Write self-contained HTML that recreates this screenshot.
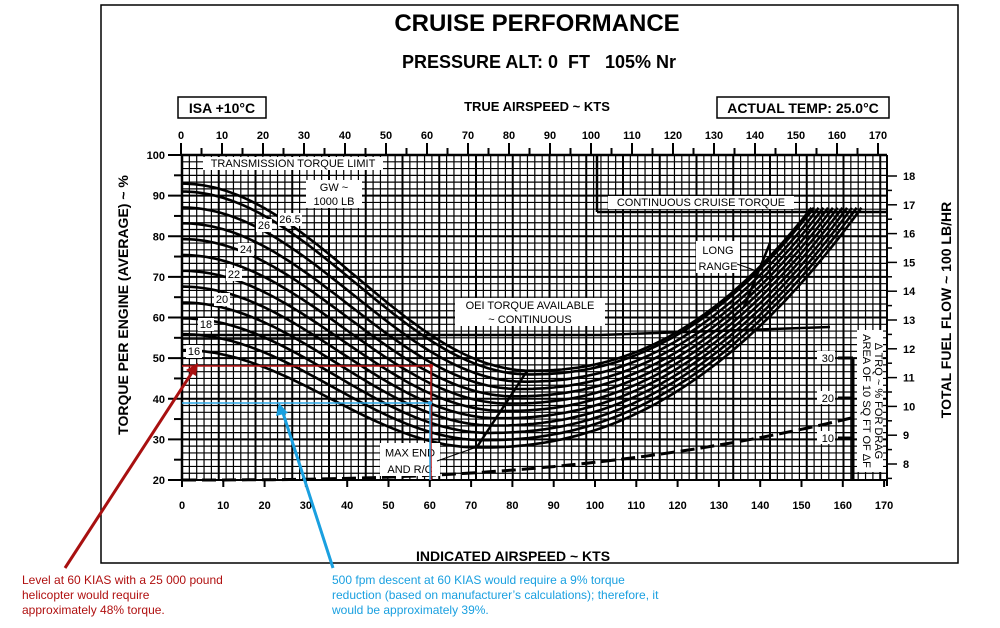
<!DOCTYPE html>
<html><head><meta charset="utf-8"><style>
html,body{margin:0;padding:0;background:#fff;width:1000px;height:628px;overflow:hidden}
svg{display:block;font-family:"Liberation Sans",Arial,sans-serif}
.b{font-weight:bold}
</style></head><body>
<svg id="s" width="1000" height="628" viewBox="0 0 1000 628" xmlns="http://www.w3.org/2000/svg">
<rect x="101" y="5" width="857" height="558" fill="#fff" stroke="#000" stroke-width="1.5"/>
<g id="grid"></g>
<g id="curves"></g>
<g id="over"></g>
<text x="537" y="31" text-anchor="middle" font-size="24" class="b">CRUISE PERFORMANCE</text>
<text x="539" y="68" text-anchor="middle" font-size="18" class="b">PRESSURE ALT: 0&#160;&#160;FT&#160;&#160;&#160;105% Nr</text>
<text x="537" y="111" text-anchor="middle" font-size="13" class="b">TRUE AIRSPEED ~ KTS</text>
<rect x="178" y="97" width="88" height="21" fill="#fff" stroke="#000" stroke-width="1.5"/>
<text x="222" y="113" text-anchor="middle" font-size="14" class="b">ISA +10°C</text>
<rect x="717" y="97" width="172" height="21" fill="#fff" stroke="#000" stroke-width="1.5"/>
<text x="803" y="113" text-anchor="middle" font-size="14" class="b">ACTUAL TEMP: 25.0°C</text>
<text x="513" y="561" text-anchor="middle" font-size="14" class="b">INDICATED AIRSPEED ~ KTS</text>
<text transform="translate(128,305) rotate(-90)" text-anchor="middle" font-size="14" class="b">TORQUE PER ENGINE (AVERAGE) ~ %</text>
<text transform="translate(951,310) rotate(-90)" text-anchor="middle" font-size="14" class="b">TOTAL FUEL FLOW ~ 100 LB/HR</text>
<text x="22" y="584" font-size="12" fill="#b01010">Level at 60 KIAS with a 25 000 pound</text>
<text x="22" y="599" font-size="12" fill="#b01010">helicopter would require</text>
<text x="22" y="614" font-size="12" fill="#b01010">approximately 48% torque.</text>
<text x="332" y="584" font-size="12" fill="#1aa0e0">500 fpm descent at 60 KIAS would require a 9% torque</text>
<text x="332" y="599" font-size="12" fill="#1aa0e0">reduction (based on manufacturer’s calculations); therefore, it</text>
<text x="332" y="614" font-size="12" fill="#1aa0e0">would be approximately 39%.</text>
</svg>
<script>
var NS="http://www.w3.org/2000/svg";
function el(p,t,a,txt){var e=document.createElementNS(NS,t);for(var k in a)e.setAttribute(k,a[k]);if(txt!==undefined)e.textContent=txt;document.getElementById(p).appendChild(e);return e;}
function X(k){return 182+k*4.13}
function Y(t){return 480-(t-20)*4.0625}
function T(k){return 181+k*4.1}
var L=182,R=887,TOP=155,BOT=480;
var i=0;
for(var x=L;x<=R+0.1;x+=7.35){el("grid","line",{x1:x,y1:TOP,x2:x,y2:BOT,stroke:"#000","stroke-width":(i%5==0)?2:1.2});i++;}
i=0;
for(var y=BOT;y>=TOP-0.1;y-=6.77){el("grid","line",{x1:L,y1:y,x2:R,y2:y,stroke:"#000","stroke-width":(i%6==0)?2:1.2});i++;}
el("grid","line",{x1:L,y1:TOP,x2:R,y2:TOP,stroke:"#000","stroke-width":2.5});
el("grid","line",{x1:L,y1:TOP,x2:L,y2:BOT,stroke:"#000","stroke-width":2.5});
el("grid","line",{x1:R,y1:TOP,x2:R,y2:BOT+6,stroke:"#000","stroke-width":2});
el("grid","line",{x1:L,y1:BOT,x2:R,y2:BOT,stroke:"#000","stroke-width":2});
for(var t=20;t<=100;t+=5){var yy=Y(t);el("grid","line",{x1:t%10==0?168:174,y1:yy,x2:L,y2:yy,stroke:"#000","stroke-width":2});
 if(t%10==0)el("grid","text",{x:165,y:yy+4,"text-anchor":"end","font-size":11,"font-weight":"bold"},t);}
for(var k=0;k<=170;k+=10){var xx=X(k);el("grid","line",{x1:xx,y1:BOT,x2:xx,y2:BOT+7,stroke:"#000","stroke-width":2});
 el("grid","text",{x:xx,y:509,"text-anchor":"middle","font-size":11,"font-weight":"bold"},k);}
for(var k=0;k<=170;k+=5){var xx=T(k);el("grid","line",{x1:xx,y1:k%10==0?143:148,x2:xx,y2:TOP,stroke:"#000","stroke-width":2});
 if(k%10==0)el("grid","text",{x:xx,y:139,"text-anchor":"middle","font-size":11,"font-weight":"bold"},k);}
for(var f=7.5;f<=18.01;f+=0.5){var yy=464-(f-8)*28.8;if(yy>480)continue;el("grid","line",{x1:R,y1:yy,x2:f%1==0?897:892,y2:yy,stroke:"#000","stroke-width":1.5});
 if(f%1==0)el("grid","text",{x:903,y:yy+4,"font-size":11,"font-weight":"bold"},f);}
var gws=[16,17,18,19,20,21,22,23,24,25,26,26.5];
gws.forEach(function(g){
 var d=g-16,h=52+d*3.9,m=28+d*1.8,vm=72+d*1.2,ve=164.5-d*1.15,pts=[];
 for(var k=0;k<=ve;k+=1){var tq;
  if(k<=vm){var u=k/vm;tq=m+(h-m)*(1+Math.cos(Math.PI*u))/2;}
  else{var u=(k-vm)/(ve-vm);tq=m+(87-m)*Math.pow(u,2.2);}
  pts.push(X(k).toFixed(1)+","+Y(tq).toFixed(1));}
 pts.push(X(ve).toFixed(1)+","+Y(87).toFixed(1));
 el("curves","polyline",{points:pts.join(" "),fill:"none",stroke:"#000","stroke-width":2.6});
});
el("curves","line",{x1:L,y1:335,x2:600,y2:335,stroke:"#000","stroke-width":2.5});
el("curves","line",{x1:L,y1:339,x2:440,y2:339,stroke:"#000","stroke-width":1.5});
el("curves","line",{x1:600,y1:335,x2:830,y2:327,stroke:"#000","stroke-width":2.5});
el("curves","line",{x1:597,y1:212,x2:R,y2:212,stroke:"#000","stroke-width":2.5});
el("curves","line",{x1:597,y1:TOP,x2:597,y2:212,stroke:"#000","stroke-width":2.5});
el("curves","line",{x1:477,y1:447,x2:527,y2:371,stroke:"#000","stroke-width":2.5});
el("curves","line",{x1:744,y1:307,x2:770,y2:243,stroke:"#000","stroke-width":2.5});
var dp=[];for(var k=0;k<=163;k+=2){var tq=20+15.5*Math.pow(k/163,2.6);dp.push(X(k).toFixed(1)+","+Y(tq).toFixed(1));}
el("curves","polyline",{points:dp.join(" "),fill:"none",stroke:"#000","stroke-width":3,"stroke-dasharray":"14,6"});
el("over","line",{x1:853,y1:358,x2:853,y2:BOT,stroke:"#000","stroke-width":3});
[[30,358],[20,398],[10,438]].forEach(function(a){el("over","rect",{x:817,y:a[1]-7,width:18,height:13,fill:"#fff"});
 el("over","line",{x1:838,y1:a[1],x2:853,y2:a[1],stroke:"#000","stroke-width":3});
 el("over","text",{x:834,y:a[1]+4,"text-anchor":"end","font-size":11},a[0]);});
el("over","rect",{x:857,y:330,width:26,height:142,fill:"#fff"});
el("over","text",{transform:"translate(875,401) rotate(90)","text-anchor":"middle","font-size":11},"Δ TRQ ~ % FOR DRAG");
el("over","text",{transform:"translate(863,401) rotate(90)","text-anchor":"middle","font-size":11},"AREA OF 10 SQ FT OF ΔF");
function box(x,y,w,h,lines,fs){el("over","rect",{x:x,y:y,width:w,height:h,fill:"#fff"});
 lines.forEach(function(s,j){el("over","text",{x:x+w/2,y:y+(j+1)*(h/lines.length)-3,"text-anchor":"middle","font-size":fs||11},s);});}
box(203,157,180,13,["TRANSMISSION TORQUE LIMIT"]);
box(306,180,56,28,["GW ~","1000 LB"]);
box(608,196,186,13,["CONTINUOUS CRUISE TORQUE"]);
box(455,298,150,28,["OEI TORQUE AVAILABLE","~ CONTINUOUS"]);
box(696,241,44,32,["LONG","RANGE"]);
box(380,443,60,33,["MAX END","AND R/C"]);
el("over","line",{x1:437,y1:461,x2:477,y2:447,stroke:"#000","stroke-width":1});
el("over","line",{x1:737,y1:264,x2:757,y2:271,stroke:"#000","stroke-width":1});
[["26.5",278,213,24],["26",256,219,16],["24",238,243,16],["22",226,268,16],["20",214,293,16],["18",198,318,16],["16",186,345,16]].forEach(function(a){box(a[1],a[2],a[3],13,[a[0]]);});
el("over","polyline",{points:"182,366 431,366 431,480",fill:"none",stroke:"#c01818","stroke-width":1.5});
el("over","circle",{cx:431,cy:366,r:2,fill:"#c01818"});
el("over","polyline",{points:"182,403 430,403 430,480",fill:"none",stroke:"#2aa8e8","stroke-width":1.5});
el("over","circle",{cx:430,cy:403,r:2,fill:"#2aa8e8"});
el("over","line",{x1:65,y1:568,x2:193,y2:371,stroke:"#a81010","stroke-width":3});
el("over","polygon",{points:"198,363 186,370 196,376",fill:"#a81010"});
el("over","line",{x1:333,y1:568,x2:283,y2:413,stroke:"#1aa0e0","stroke-width":3});
el("over","polygon",{points:"279,403 276,416 288,413",fill:"#1aa0e0"});
</script>
</body></html>
